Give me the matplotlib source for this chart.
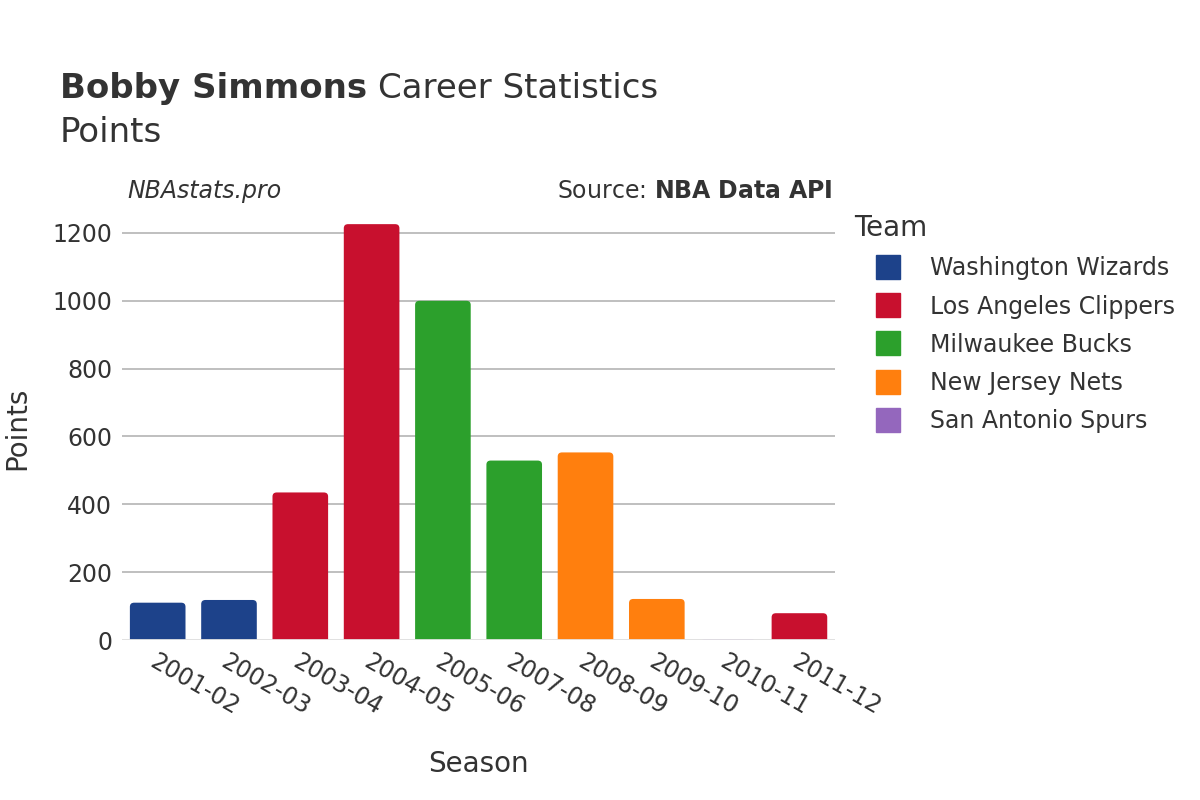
import matplotlib.pyplot as plt
from matplotlib.patches import FancyBboxPatch
from matplotlib.lines import Line2D

# season -> team, points
seasons = ['2001-02', '2002-03', '2003-04', '2004-05', '2005-06',
           '2007-08', '2008-09', '2009-10', '2010-11', '2011-12']
points = [110, 118, 435, 1226, 1000, 529, 553, 121, 2, 79]
season_team = ['Washington Wizards', 'Washington Wizards', 'Los Angeles Clippers',
               'Los Angeles Clippers', 'Milwaukee Bucks', 'Milwaukee Bucks',
               'New Jersey Nets', 'New Jersey Nets', 'San Antonio Spurs',
               'Los Angeles Clippers']
teams = ['Washington Wizards', 'Los Angeles Clippers', 'Milwaukee Bucks',
         'New Jersey Nets', 'San Antonio Spurs']
team_colors = ['#1d428a', '#c8102e', '#2ca02c', '#ff7f0e', '#9467bd']

plt.rcParams['font.family'] = ['DejaVu Sans']
txt = '#333333'

fig = plt.figure(figsize=(12, 8), dpi=100)
ax = fig.add_axes([0.1017, 0.2, 0.5942, 0.53])

cmap = dict(zip(teams, team_colors))
x = list(range(len(seasons)))
bars = ax.bar(x, points, width=0.78, color=[cmap[t] for t in season_team])

# swap plain bars for rounded ones
for b in bars:
    bx, bw, bh = b.get_x(), b.get_width(), b.get_height()
    fc = b.get_facecolor()
    b.remove()
    if bh <= 0:
        continue
    p = FancyBboxPatch((bx, -20), bw, bh + 20,
                       boxstyle='round,pad=0,rounding_size=0.06',
                       mutation_aspect=200, facecolor=fc, edgecolor='none',
                       zorder=3)
    ax.add_patch(p)

ax.set_xlim(-0.5, len(seasons) - 0.5)
ax.set_ylim(0, 1250)
ax.set_yticks([0, 200, 400, 600, 800, 1000, 1200])
ax.yaxis.grid(True, color='#b4b4b4', linewidth=1.2)
ax.axhline(0, color='#e6e6e6', linewidth=2, zorder=4)
ax.set_axisbelow(True)
for s in ax.spines.values():
    s.set_visible(False)
ax.tick_params(axis='both', length=0, labelsize=17, labelcolor=txt, pad=7)
ax.set_xticks(x)
ax.set_xticklabels(seasons, rotation=-30, ha='left', rotation_mode='anchor')
ax.set_xlabel('Season', fontsize=20, color=txt, labelpad=22)
ax.set_ylabel('Points', fontsize=20, color=txt)
ax.yaxis.set_label_coords(-0.128, 0.5)

t1 = fig.text(0.05, 0.889, 'Bobby Simmons', fontsize=24.5, fontweight='bold', color=txt,
              va='center')
r = fig.canvas.get_renderer()
bb = t1.get_window_extent(r)
fig.text(bb.x1 / fig.bbox.width + 0.009, 0.889, 'Career Statistics', fontsize=24.5,
         color=txt, va='center')
fig.text(0.05, 0.835, 'Points', fontsize=24.5, color=txt, va='center')
fig.text(0.106, 0.761, 'NBAstats.pro', fontsize=17, style='italic', color=txt,
         va='center')
fig.text(0.694, 0.761, 'Source: $\\bf{NBA\\ Data\\ API}$', fontsize=17, color=txt,
         va='center', ha='right')

handles = [Line2D([], [], marker='s', linestyle='none', markersize=17,
                  markerfacecolor=c, markeredgecolor=c) for c in team_colors]
leg = fig.legend(handles, teams, loc='upper left', bbox_to_anchor=(0.7035, 0.744),
                 frameon=False, fontsize=17, title='Team', title_fontsize=20,
                 labelspacing=0.6, handletextpad=0.3, borderaxespad=0,
                 handlelength=2.95)
leg._legend_box.align = 'left'
for t in leg.get_texts():
    t.set_color(txt)
leg.get_title().set_color(txt)

fig.savefig('out.png', dpi=100)
